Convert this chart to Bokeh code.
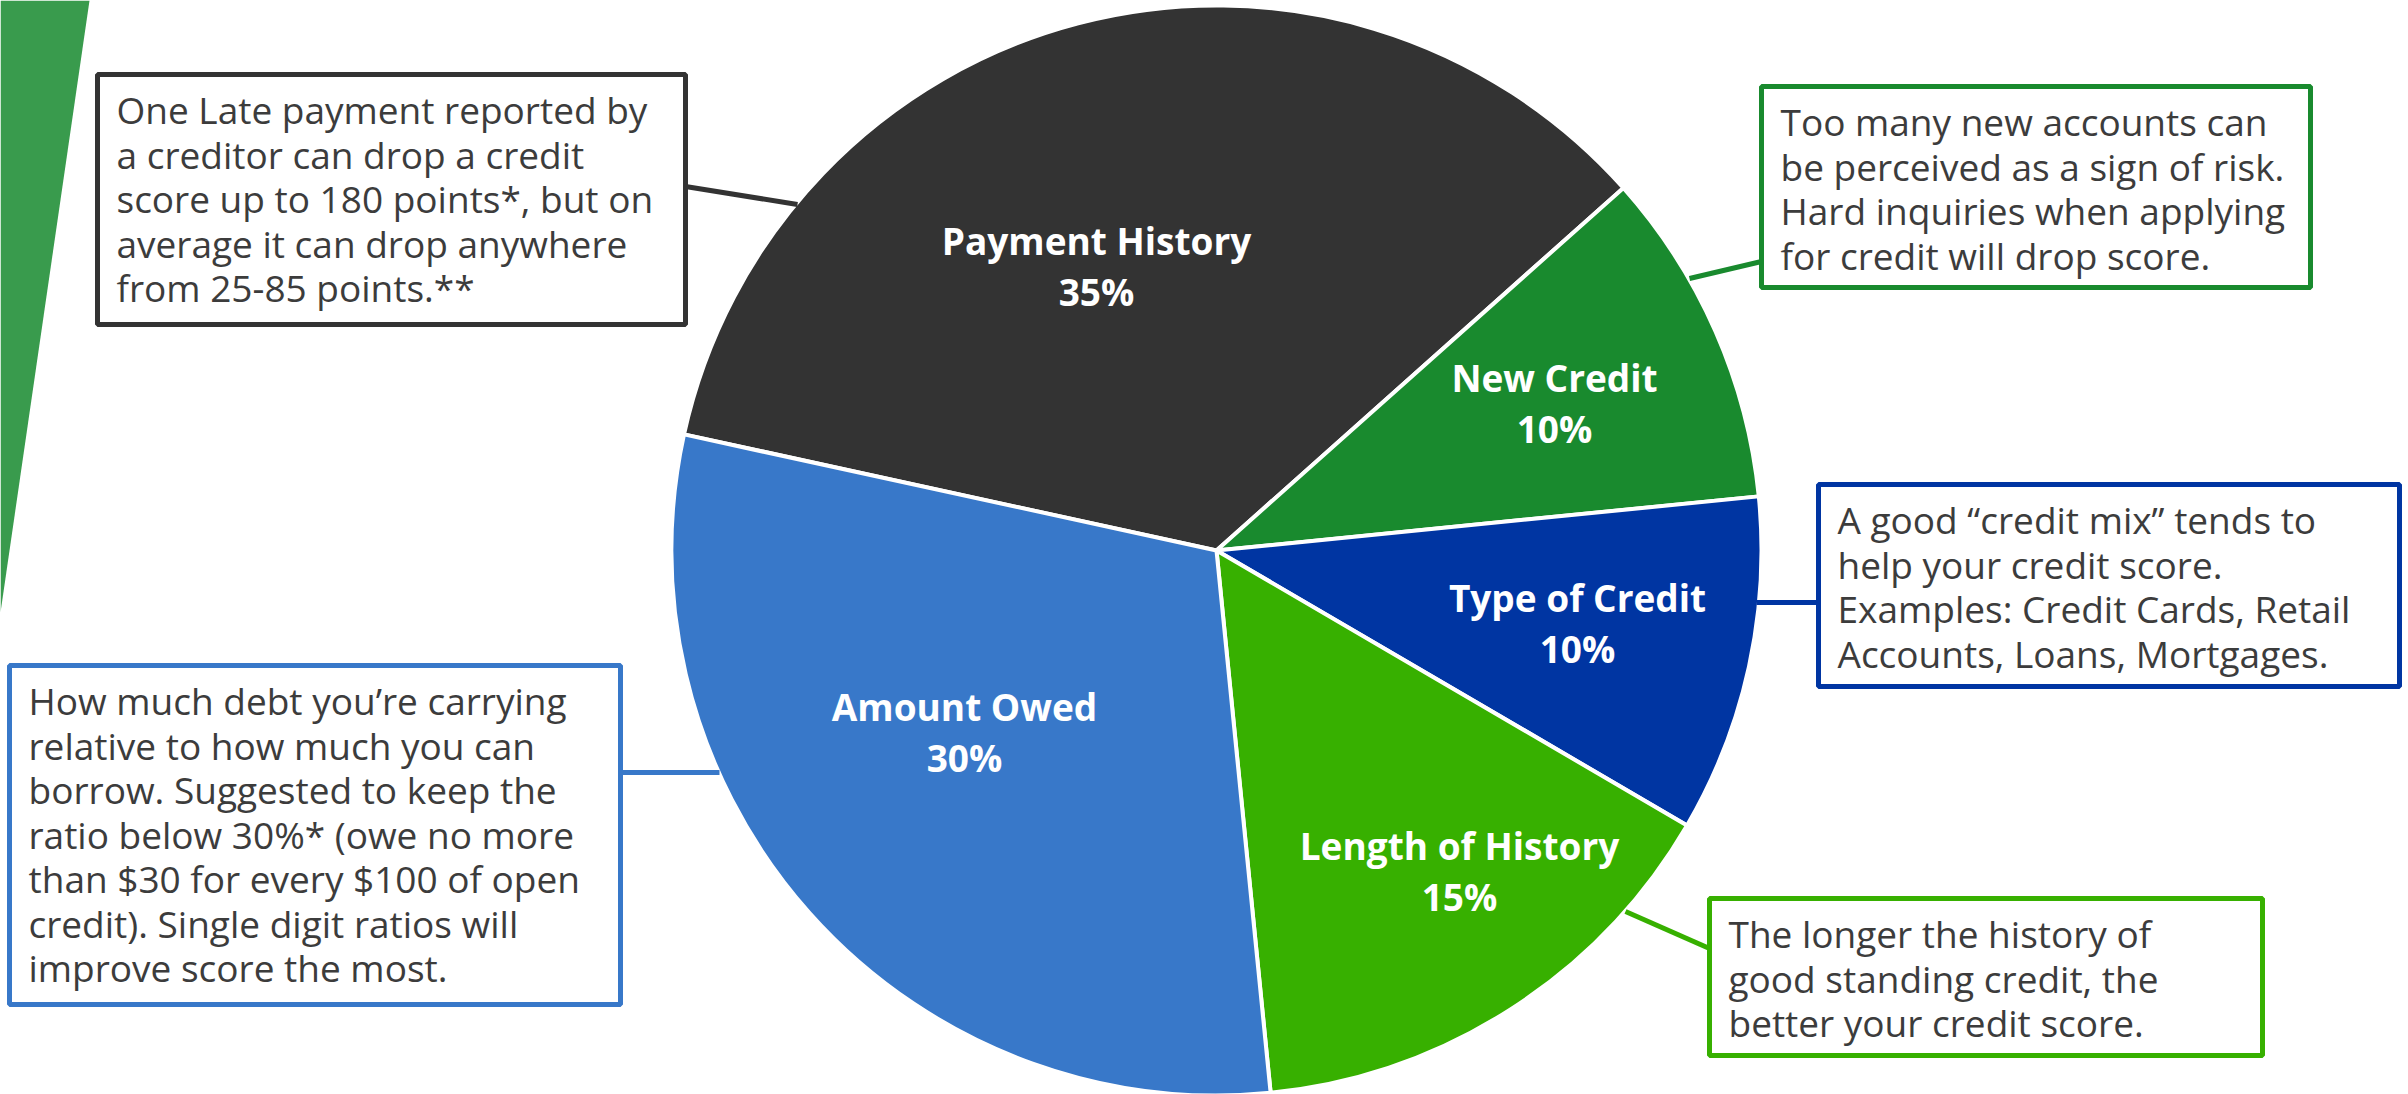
from bokeh.plotting import figure
from bokeh.models import Range1d, ColumnDataSource
from bokeh.core.properties import value
from bokeh.embed import file_html
from bokeh.resources import INLINE
import math

# ---------------- data ----------------
categories = ["Payment History", "New Credit", "Type of Credit", "Length of History", "Amount Owed"]
percents = [35, 10, 10, 15, 30]
slice_colors = ["#333333", "#198a2e", "#0035a2", "#37b000", "#3878c9"]

notes = [
    ["One Late payment reported by", "a creditor can drop a credit",
     "score up to 180 points*, but on", "average it can drop anywhere",
     "from 25-85 points.**"],
    ["Too many new accounts can", "be perceived as a sign of risk.",
     "Hard inquiries when applying", "for credit will drop score."],
    ["A good \u201ccredit mix\u201d tends to", "help your credit score.",
     "Examples: Credit Cards, Retail", "Accounts, Loans, Mortgages."],
    ["The longer the history of", "good standing credit, the",
     "better your credit score."],
    ["How much debt you\u2019re carrying", "relative to how much you can",
     "borrow. Suggested to keep the", "ratio below 30%* (owe no more",
     "than $30 for every $100 of open", "credit). Single digit ratios will",
     "improve score the most."],
]

# ---------------- layout (screen pixels, y down) ----------------
W, H = 2408, 1094
CX, CY, R = 1216, 550, 545
START_DEG = 167.7

label_pos = [(1096, 240), (1554, 377), (1577, 597), (1459, 845), (964, 706)]
box_rect = [(97, 74, 685, 324), (1761, 86, 2310, 287), (1818, 484, 2399, 686),
            (1709, 898, 2262, 1055), (9, 665, 620, 1004)]
leader = [((685, 186), (797, 204)), ((1761, 261), (1689, 278)), ((1818, 602), (1756, 602)),
          ((1709, 948), (1625, 911)), ((620, 772), (719, 772))]
TEXT_PAD_X = 19
FIRST_LINE = 35
LINE_STEP = 44.5


def fy(y):
    return H - y


p = figure(width=W, height=H, x_range=Range1d(0, W), y_range=Range1d(0, H),
           x_axis_type=None, y_axis_type=None, toolbar_location=None,
           output_backend="svg", min_border=0, outline_line_color=None,
           background_fill_color="white", border_fill_color="white")

# decorative green band at left
p.patch([0, 89, 0], [fy(0), fy(0), fy(612)], fill_color="#399b4d", line_color=None)

# pie
total = sum(percents)
cum = 0
starts, ends = [], []
for v in percents:
    hi = START_DEG - cum / total * 360
    cum += v
    lo = START_DEG - cum / total * 360
    starts.append(math.radians(lo))
    ends.append(math.radians(hi))
src = ColumnDataSource(dict(start=starts, end=ends, color=slice_colors))
p.wedge(x=CX, y=fy(CY), radius=R, start_angle="start", end_angle="end",
        direction="anticlock", fill_color="color", line_color="white",
        line_width=4, source=src)

# slice labels
p.text(x=[lp[0] for lp in label_pos], y=[fy(lp[1]) for lp in label_pos], text=categories,
       text_font=value("Open Sans"), text_font_style="bold", text_font_size="37px",
       text_color="white", text_align="center", text_baseline="middle")
p.text(x=[lp[0] for lp in label_pos], y=[fy(lp[1] + 51) for lp in label_pos],
       text=[f"{v}%" for v in percents],
       text_font=value("Open Sans"), text_font_style="bold", text_font_size="37px",
       text_color="white", text_align="center", text_baseline="middle")

# leader lines
for (a, b), c in zip(leader, slice_colors):
    p.segment(x0=a[0], y0=fy(a[1]), x1=b[0], y1=fy(b[1]), line_color=c, line_width=5)

# annotation boxes
for (l, t, r, b), c, lines in zip(box_rect, slice_colors, notes):
    p.quad(left=l, right=r, top=fy(t), bottom=fy(b), fill_color="white",
           line_color=c, line_width=5)
    ys = [fy(t + FIRST_LINE + i * LINE_STEP) for i in range(len(lines))]
    p.text(x=[l + TEXT_PAD_X] * len(lines), y=ys, text=lines,
           text_font=value("Open Sans"), text_font_size="37px", text_color="#3c3c3c",
           text_align="left", text_baseline="middle")

open("out.html", "w").write(file_html(p, INLINE))
